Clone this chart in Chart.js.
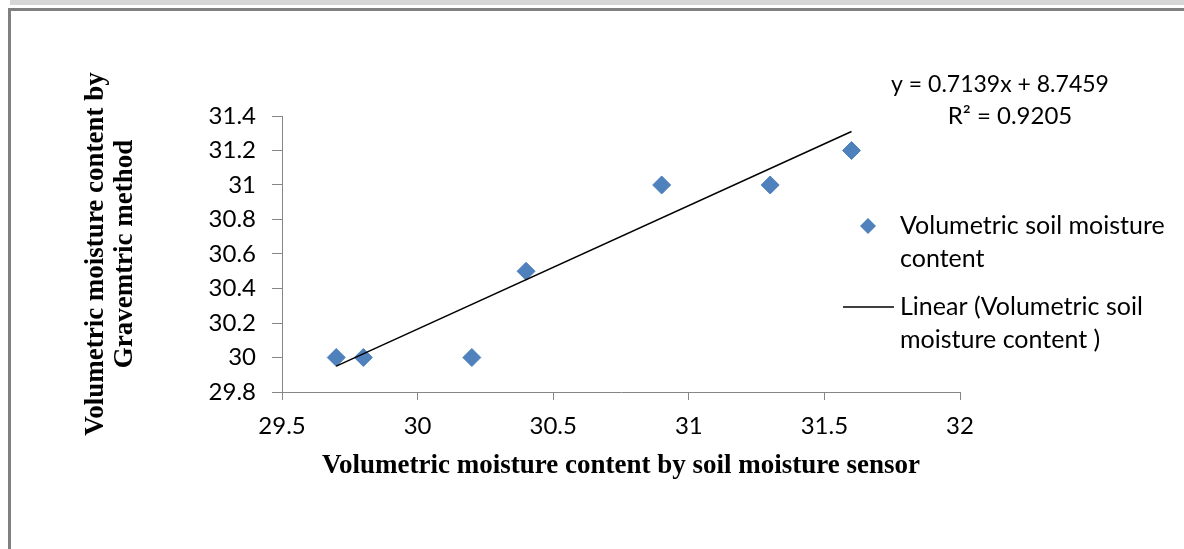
<!DOCTYPE html>
<html>
<head>
<meta charset="utf-8">
<script src="https://cdn.jsdelivr.net/npm/chart.js@4.4.1/dist/chart.umd.min.js"></script>
<style>
  html, body { margin: 0; padding: 0; background: #fff; overflow: hidden; }
  #band { position: absolute; left: 10px; top: 0; width: 1174px; height: 5px; background: #d6d6d6; }
  #frame { position: absolute; left: 8px; top: 8px; width: 1176px; height: 541px;
           border-left: 3px solid #808080; border-top: 3px solid #808080; box-sizing: border-box; }
  #wrap { position: absolute; left: 0; top: 0; width: 1184px; height: 549px; }
</style>
</head>
<body>
<div id="band"></div>
<div id="frame"></div>
<div id="wrap"><canvas id="c" width="1184" height="549"></canvas></div>
<script>
// ---- data ----
const sensorX = [29.7, 29.8, 30.2, 30.4, 30.9, 31.3, 31.6];
const gravimetricY = [30.0, 30.0, 30.0, 30.5, 31.0, 31.0, 31.2];
const trendX = [29.7, 31.6];
const trendY = [29.95, 31.31];
const seriesName = 'Volumetric soil moisture content';
const trendName = 'Linear (Volumetric soil moisture content )';
const equationLines = ['y = 0.7139x + 8.7459', 'R\u00B2 = 0.9205'];
const xTitle = 'Volumetric moisture content by soil moisture sensor';
const yTitle = ['Volumetric moisture content by', 'Gravemtric method'];
const xMin = 29.5, xMax = 32, xStep = 0.5;
const yMin = 29.8, yMax = 31.4, yStep = 0.2;

const BLUE = '#4f81bd';
const AXIS = '#868686';
const SANS = 'Lato, "Open Sans", sans-serif';
const SERIF = '"Liberation Serif", "Times New Roman", serif';

const fmt = v => String(Number(v.toFixed(2)));

function wrap(ctx, text, maxW) {
  const words = text.split(' ');
  const lines = [];
  let cur = '';
  for (const w of words) {
    const t = cur ? cur + ' ' + w : w;
    if (ctx.measureText(t).width > maxW && cur) { lines.push(cur); cur = w; }
    else cur = t;
  }
  if (cur) lines.push(cur);
  return lines;
}

const overlay = {
  id: 'overlay',
  afterDraw(chart) {
    const ctx = chart.ctx;
    ctx.save();
    ctx.fillStyle = '#000';
    ctx.font = '23px ' + SANS;
    ctx.textBaseline = 'middle';
    // equation label
    ctx.textAlign = 'center';
    ctx.fillText(equationLines[0], 1000, 85);
    ctx.font = '24px ' + SANS;
    ctx.fillText(equationLines[1], 1010, 116);
    // legend
    ctx.font = '25px ' + SANS;
    ctx.textAlign = 'left';
    const lineH = 33;
    const textX = 900;
    // item 1: diamond
    const d1 = chart.data.datasets[0];
    ctx.fillStyle = d1.backgroundColor;
    ctx.beginPath();
    const cx = 868, cy = 226, r = 8;
    ctx.moveTo(cx - r, cy); ctx.lineTo(cx, cy - r); ctx.lineTo(cx + r, cy); ctx.lineTo(cx, cy + r);
    ctx.closePath(); ctx.fill();
    ctx.fillStyle = '#000';
    wrap(ctx, d1.label, 275).forEach((l, i) => ctx.fillText(l, textX, cy + i * lineH));
    // item 2: line
    const d2 = chart.data.datasets[1];
    const ly = 307;
    ctx.strokeStyle = d2.borderColor;
    ctx.lineWidth = 1.5;
    ctx.beginPath(); ctx.moveTo(843, ly); ctx.lineTo(894, ly); ctx.stroke();
    wrap(ctx, d2.label, 275).forEach((l, i) => ctx.fillText(l, textX, ly + i * lineH));
    ctx.restore();
  }
};

new Chart(document.getElementById('c'), {
  type: 'scatter',
  data: {
    datasets: [
      {
        label: seriesName,
        data: sensorX.map((x, i) => ({ x, y: gravimetricY[i] })),
        pointStyle: 'rectRot',
        pointRadius: 9,
        pointHoverRadius: 9,
        backgroundColor: BLUE,
        borderColor: BLUE,
        borderWidth: 1,
        order: 1
      },
      {
        label: trendName,
        type: 'line',
        data: trendX.map((x, i) => ({ x, y: trendY[i] })),
        borderColor: '#000',
        borderWidth: 1.5,
        pointRadius: 0,
        fill: false,
        order: 0
      }
    ]
  },
  options: {
    responsive: false,
    animation: false,
    events: [],
    layout: { padding: { left: 0, top: 116, right: 224, bottom: 0 } },
    plugins: { legend: { display: false }, tooltip: { enabled: false } },
    scales: {
      x: {
        type: 'linear',
        min: xMin, max: xMax,
        afterFit(s) { s.height = 157; },
        ticks: { stepSize: xStep, color: '#000', font: { family: SANS, size: 24 }, padding: 12, callback: v => fmt(v) },
        grid: { drawOnChartArea: false, drawTicks: true, tickLength: 8, color: AXIS },
        border: { display: true, color: AXIS, width: 1 },
        title: { display: true, text: xTitle, color: '#000',
                 font: { family: SERIF, size: 27, weight: 'bold', lineHeight: 1.2 }, padding: { top: 0, bottom: 67 } }
      },
      y: {
        type: 'linear',
        min: yMin, max: yMax,
        afterFit(s) { s.width = 282; },
        ticks: { stepSize: yStep, color: '#000', font: { family: SANS, size: 24 }, padding: 16, callback: v => fmt(v) },
        grid: { drawOnChartArea: false, drawTicks: true, tickLength: 10, color: AXIS },
        border: { display: true, color: AXIS, width: 1 },
        title: { display: true, text: yTitle, color: '#000',
                 font: { family: SERIF, size: 27, weight: 'bold', lineHeight: 1.07 }, padding: { top: 82, bottom: 0 } }
      }
    }
  },
  plugins: [overlay]
});
</script>
</body>
</html>
